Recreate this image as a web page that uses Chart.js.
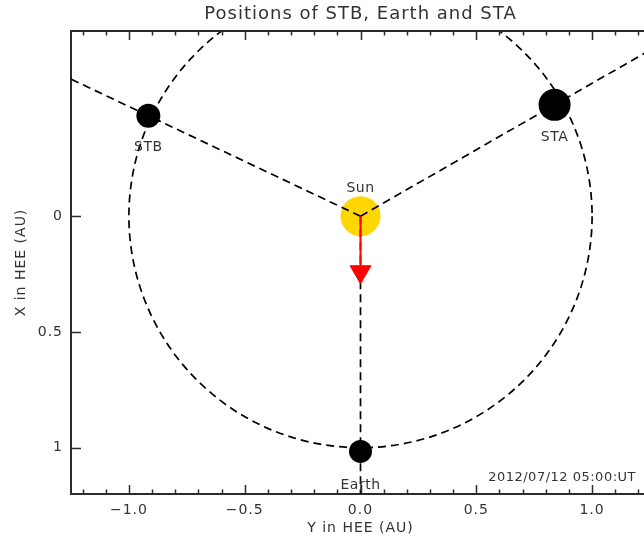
<!DOCTYPE html>
<html>
<head>
<meta charset="utf-8">
<script src="https://cdn.jsdelivr.net/npm/chart.js@4.4.1/dist/chart.umd.min.js"></script>
<style>
  html, body { margin: 0; padding: 0; background: #fff; overflow: hidden; }
  #wrap { width: 721px; height: 543px; }
</style>
</head>
<body>
<div id="wrap"><canvas id="c" width="721" height="543"></canvas></div>
<script>
// Heliocentric Earth Ecliptic positions (AU): Y across, X down
const bodyNames = ['Sun', 'STB', 'STA', 'Earth'];
const bodyHeeY  = [0.0, -0.916, 0.838, 0.0];
const bodyHeeX  = [0.0, -0.434, -0.481, 1.016];
const orbitRadiusAU = [1.0];
const arrowTipX = 0.24;          // red Sun-to-Earth arrow head position (AU)
const xTickValues = [-1.0, -0.5, 0.0, 0.5, 1.0];
const yTickValues = [0, 0.5, 1];
const timeStamp = '2012/07/12 05:00:UT';

const FONT = '"DejaVu Sans", sans-serif';
const INK = '#333';
const AXIS = '#2b2b2b';
const DASH = [8, 5];

const bodyStyle = {
  Sun:   { r: 20,   fill: 'rgb(255,214,0)', labelDy: -28 },
  STB:   { r: 12,   fill: '#000', labelDy: 32 },
  STA:   { r: 16,   fill: '#000', labelDy: 33 },
  Earth: { r: 11.5, fill: '#000', labelDy: 34 }
};

const pts = bodyNames.map((n, i) => ({ x: bodyHeeY[i], y: bodyHeeX[i] }));
const craft = [1, 2, 3];
const rayLength = 2.2; // rays run outward from the Sun past each body

const datasets = [
  { // Earthward arrow from the Sun
    data: [{ x: 0, y: 0 }, { x: 0, y: arrowTipX }],
    showLine: true, borderColor: '#ff0000', borderWidth: 2,
    pointRadius: [0, 12], pointStyle: 'triangle', rotation: 180,
    pointBackgroundColor: '#ff0000', pointBorderColor: '#ff0000', pointBorderWidth: 1
  },
  { // STB, STA, Earth
    data: craft.map(i => pts[i]),
    pointRadius: craft.map(i => bodyStyle[bodyNames[i]].r),
    pointBackgroundColor: craft.map(i => bodyStyle[bodyNames[i]].fill),
    pointBorderWidth: 0
  },
  ...craft.map(i => ({ // dashed Sun-body rays
    data: [{ x: 0, y: 0 }, { x: pts[i].x * rayLength, y: pts[i].y * rayLength }],
    showLine: true, borderColor: '#000', borderWidth: 1.7, borderDash: DASH,
    pointRadius: 0
  })),
  { // the Sun
    data: [pts[0]],
    pointRadius: bodyStyle.Sun.r,
    pointBackgroundColor: bodyStyle.Sun.fill,
    pointBorderWidth: 0
  }
];

const decorations = {
  id: 'decorations',
  beforeDraw(chart) {
    chart.ctx.letterSpacing = '1px';
  },
  beforeDatasetsDraw(chart) {
    const { ctx, chartArea: a, scales: { x, y } } = chart;
    const cx = x.getPixelForValue(0), cy = y.getPixelForValue(0);
    ctx.save();
    ctx.beginPath();
    ctx.rect(a.left, a.top, a.right - a.left, a.bottom - a.top);
    ctx.clip();
    ctx.strokeStyle = '#000';
    ctx.lineWidth = 1.7;
    ctx.setLineDash(DASH);
    orbitRadiusAU.forEach(r => {
      const rx = Math.abs(x.getPixelForValue(r) - cx);
      const ry = Math.abs(y.getPixelForValue(r) - cy);
      ctx.beginPath();
      ctx.ellipse(cx, cy, rx, ry, 0, 0, Math.PI * 2);
      ctx.stroke();
    });
    ctx.restore();
  },
  afterDatasetsDraw(chart) {
    const { ctx, chartArea: a, scales: { x, y } } = chart;
    ctx.save();
    // top frame line and inward tick marks
    ctx.strokeStyle = AXIS;
    ctx.lineWidth = 2;
    ctx.beginPath();
    ctx.moveTo(a.left - 1, a.top); ctx.lineTo(a.right, a.top);
    ctx.stroke();
    ctx.lineWidth = 1.5;
    ctx.beginPath();
    for (let k = -12; k <= 12; k++) {
      const v = k / 10;
      const major = xTickValues.some(t => Math.abs(t - v) < 1e-9);
      const len = major ? 9 : 4.5;
      const px = Math.round(x.getPixelForValue(v)) + 0.5;
      ctx.moveTo(px, a.bottom); ctx.lineTo(px, a.bottom - len);
      ctx.moveTo(px, a.top); ctx.lineTo(px, a.top + len);
    }
    yTickValues.forEach(v => {
      const py = Math.round(y.getPixelForValue(v)) + 0.5;
      ctx.moveTo(a.left, py); ctx.lineTo(a.left + 10, py);
    });
    ctx.stroke();

    // body names
    ctx.fillStyle = INK;
    ctx.font = '14px ' + FONT;
    ctx.letterSpacing = '0.5px';
    ctx.textAlign = 'center';
    ctx.textBaseline = 'middle';
    bodyNames.forEach((n, i) => {
      const px = x.getPixelForValue(bodyHeeY[i]);
      const py = y.getPixelForValue(bodyHeeX[i]);
      ctx.fillText(n, px, py + bodyStyle[n].labelDy);
    });

    // observation time
    ctx.font = '13px ' + FONT;
    ctx.textAlign = 'right';
    ctx.fillText(timeStamp, a.right - 14, a.bottom - 16);
    ctx.restore();
  }
};

const fmtX = v => v.toFixed(1).replace('-', '\u2212');

new Chart(document.getElementById('c'), {
  type: 'scatter',
  data: { datasets },
  options: {
    responsive: false,
    animation: false,
    events: [],
    layout: { padding: 0 },
    plugins: {
      legend: { display: false },
      tooltip: { enabled: false },
      title: {
        display: true,
        text: 'Positions of STB, Earth and STA',
        color: INK,
        font: { family: FONT, size: 18, weight: 'normal', lineHeight: 1.2 },
        padding: { top: 4, bottom: 5.4 }
      }
    },
    scales: {
      x: {
        type: 'linear', min: -1.25, max: 1.25,
        afterBuildTicks: s => { s.ticks = xTickValues.map(v => ({ value: v })); },
        afterFit: s => { s.height = 49; },
        grid: { drawOnChartArea: false, drawTicks: false },
        border: { display: true, color: AXIS, width: 2 },
        ticks: {
          autoSkip: false, maxRotation: 0, padding: 8, color: INK,
          font: { family: FONT, size: 14 },
          callback: v => fmtX(v)
        },
        title: {
          display: true, text: 'Y in HEE (AU)', color: INK,
          font: { family: FONT, size: 14 }, padding: { top: 0, bottom: 6.6 }
        }
      },
      y: {
        type: 'linear', reverse: true, min: -0.8, max: 1.2,
        afterBuildTicks: s => { s.ticks = yTickValues.map(v => ({ value: v })); },
        afterFit: s => { s.width = 71; },
        grid: { drawOnChartArea: false, drawTicks: false },
        border: { display: true, color: AXIS, width: 2 },
        ticks: {
          autoSkip: false, padding: 8, color: INK,
          font: { family: FONT, size: 14 },
          callback: v => String(v)
        },
        title: {
          display: true, text: 'X in HEE (AU)', color: INK,
          font: { family: FONT, size: 14 }, padding: { top: 13, bottom: 0 }
        }
      },
      yRight: {
        type: 'linear', position: 'right', reverse: true, min: -0.8, max: 1.2,
        afterFit: s => { s.width = 71; },
        grid: { drawOnChartArea: false, drawTicks: false },
        border: { display: true, color: AXIS, width: 2 },
        ticks: { display: false }
      }
    }
  },
  plugins: [decorations]
});
</script>
</body>
</html>
